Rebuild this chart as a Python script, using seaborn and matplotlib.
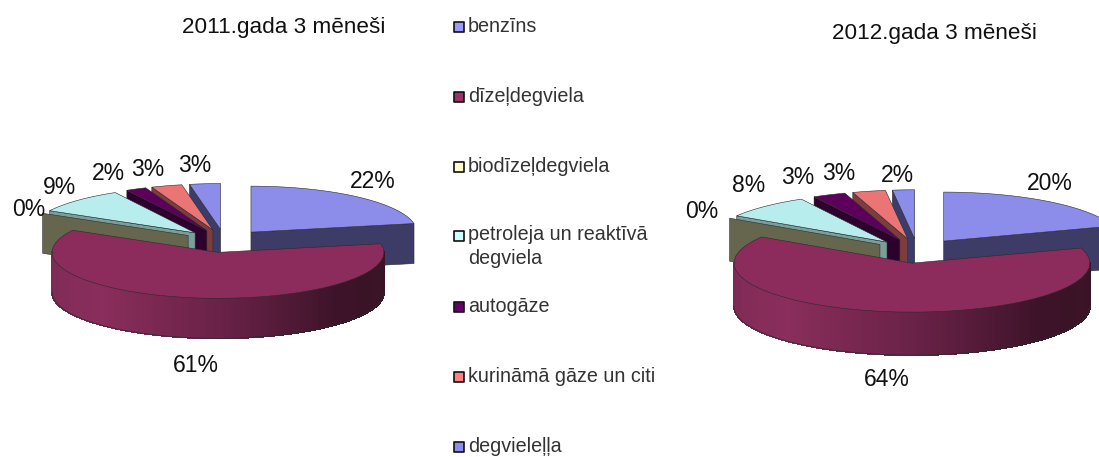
"""
Exploded 3D style pies of fuel shares, 2011 and 2012
"""
import numpy as np
import matplotlib
matplotlib.use("Agg")
import matplotlib.pyplot as plt
from matplotlib.collections import PolyCollection
from matplotlib.patches import Polygon
import seaborn as sns

categories = ["benzīns", "dīzeļdegviela", "biodīzeļdegviela",
              "petroleja un reaktīvā\ndegviela", "autogāze",
              "kurināmā gāze un citi", "degvieleļļa"]
values_2011 = [22, 61, 0, 9, 2, 3, 3]
values_2012 = [20, 64, 0, 8, 3, 3, 2]
titles = ["2011.gada 3 mēneši", "2012.gada 3 mēneši"]

legend_colors = ["#9999ff", "#993366", "#ffffcc", "#ccffff", "#660066", "#ff8080", "#8c8cf0"]
top_colors = ["#8c8ceb", "#8b2c5c", "#e8e8bd", "#b8eded", "#5c005c", "#eb7474", "#8c8ceb"]
wall_colors = ["#3c3c66", "#5a1d3c", "#66664f", "#7a9e9a", "#2e002e", "#7d3d3d", "#3c3c6b"]
diesel_shades = ["#7d2a55", "#8a2e5c", "#6a2248", "#3c1328", "#3a1426"]

# legend rows: y of the square, the two line label sits lower than its square
legend_y = [27, 97, 167, 236, 307, 377, 447]
label_pos_2011 = [(373, 181), (196, 365), (29, 209), (60, 188), (108, 173), (148, 170), (195, 165)]
label_pos_2012 = [(1050, 184), (887, 379), (702, 211), (749, 186), (798, 178), (839, 174), (897, 176)]

EXPLODE = 0.25
TEXT_FONT = "Liberation Sans"


def arc(t0, t1, cx, cy, rx, ry, n=40):
    t = np.radians(np.linspace(t0, t1, n))
    return np.column_stack([cx + rx * np.sin(t), cy - ry * np.cos(t)])


def wall(ax, apex, outer, depth, color):
    pts = [apex, outer, (outer[0], outer[1] + depth), (apex[0], apex[1] + depth)]
    ax.add_patch(Polygon(pts, closed=True, fc=color, ec="#2a2a2a", lw=0.4))


def draw_pie(ax, values, cx, cy, rx, ry, depth):
    """cx, cy is the centre before the slices are pulled apart"""
    edges = np.concatenate([[0], np.cumsum(values)]) * 3.6
    slices = []
    for i in range(len(values)):
        mid = np.radians((edges[i] + edges[i + 1]) / 2)
        slices.append((np.cos(mid), i, mid))

    # back slices first, front ones paint over them
    for _, i, mid in sorted(slices, reverse=True):
        a, b = edges[i], edges[i + 1]
        x0 = cx + EXPLODE * rx * np.sin(mid)
        y0 = cy - EXPLODE * ry * np.cos(mid)
        rim = arc(a, b, x0, y0, rx, ry)

        if np.sin(np.radians(a)) < -1e-6:
            wall(ax, (x0, y0), rim[0], depth, wall_colors[i])
        if np.sin(np.radians(b)) > 1e-6:
            wall(ax, (x0, y0), rim[-1], depth, wall_colors[i])

        # curved outer side, shaded left to right
        lo, hi = max(a, 90), min(b, 270)
        if hi > lo:
            front = arc(lo, hi, x0, y0, rx, ry, n=160)
            quads = []
            for p, q in zip(front[:-1], front[1:]):
                quads.append([p, q, (q[0], q[1] + depth), (p[0], p[1] + depth)])
            shades = sns.blend_palette(diesel_shades, 159)
            order = np.argsort(np.argsort(front[:-1, 0]))
            colors = [shades[k] for k in order]
            ax.add_collection(PolyCollection(quads, facecolors=colors, edgecolors=colors,
                                             linewidths=0.6, antialiased=False))
            ax.plot(front[:, 0], front[:, 1] + depth, color="#2a2a2a", lw=0.5)

        if b > a:
            top = np.vstack([[x0, y0], rim])
            ax.add_patch(Polygon(top, closed=True, fc=top_colors[i], ec="#2a2a2a", lw=0.4))


def pie_labels(ax, values, positions):
    for v, pos in zip(values, positions):
        ax.text(pos[0], pos[1], f"{v}%", ha="center", va="center", fontsize=16.5, color="#111111")


sns.set_theme(style="white")
plt.rcParams["font.family"] = [TEXT_FONT, "DejaVu Sans"]

fig = plt.figure(figsize=(10.99, 4.57), dpi=100)
ax = fig.add_axes([0, 0, 1, 1])
ax.set_xlim(0, 1099)
ax.set_ylim(457, 0)
ax.axis("off")

draw_pie(ax, values_2011, 224.5, 241, 166, 46, 40)
draw_pie(ax, values_2012, 917.5, 251, 178, 49, 43)

pie_labels(ax, values_2011, label_pos_2011)
pie_labels(ax, values_2012, label_pos_2012)

ax.text(284, 27, titles[0], ha="center", va="center", fontsize=16.2, color="#111111")
ax.text(934, 34, titles[1], ha="center", va="center", fontsize=16.2, color="#111111")

ax.scatter([459] * len(legend_y), legend_y, marker="s", s=48, c=legend_colors,
           edgecolors="#111111", linewidths=1.2, zorder=5)
for name, y in zip(categories, legend_y):
    if "\n" in name:
        ax.text(468, y - 11, name, ha="left", va="top", fontsize=14.2, color="#333333", linespacing=1.3)
    else:
        ax.text(468, y, name, ha="left", va="center", fontsize=14.2, color="#333333")

fig.savefig("out.png", dpi=100, facecolor="white")
